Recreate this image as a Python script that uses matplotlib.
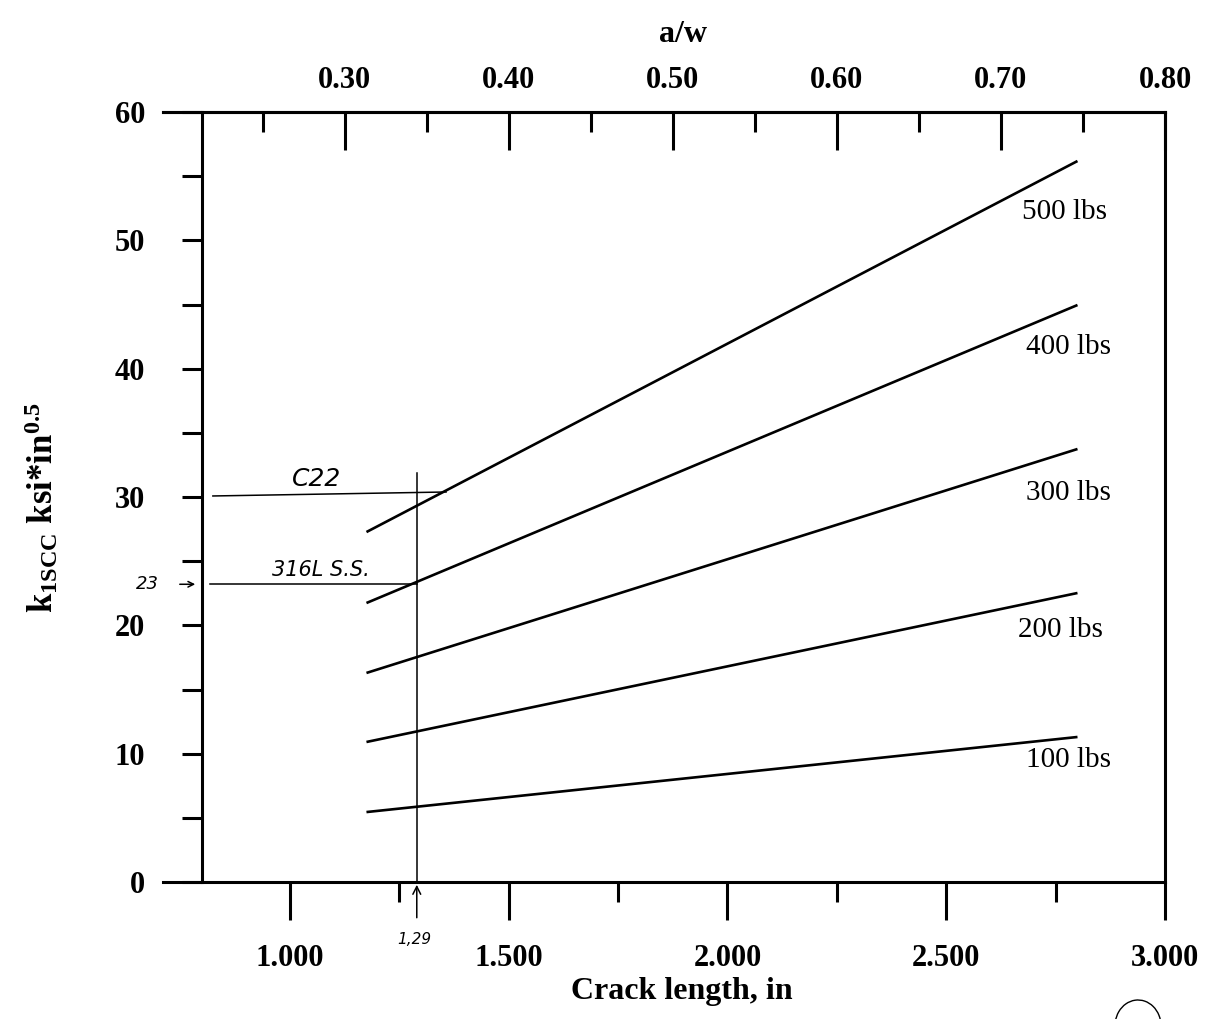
import matplotlib
matplotlib.use("Agg")
import matplotlib.pyplot as plt
from matplotlib.ticker import MultipleLocator, FixedLocator
from matplotlib.patches import Arc

# ---- data ----
crack_len = [1.175, 2.80]                      # in
loads = ["100 lbs", "200 lbs", "300 lbs", "400 lbs", "500 lbs"]
k_start = [5.45, 10.91, 16.29, 21.74, 27.27]   # ksi*in^0.5 at crack_len[0]
k_end = [11.30, 22.52, 33.74, 44.96, 56.18]    # ksi*in^0.5 at crack_len[1]
label_x = [2.78, 2.76, 2.78, 2.78, 2.77]
label_y = [9.5, 19.6, 30.3, 41.7, 52.2]

x_ticks = [1.0, 1.5, 2.0, 2.5, 3.0]
x_ticklabels = ["1.000", "1.500", "2.000", "2.500", "3.000"]
x_minor = [1.25, 1.75, 2.25, 2.75]
y_ticks = [0, 10, 20, 30, 40, 50, 60]
aw_ticks = [0.30, 0.40, 0.50, 0.60, 0.70, 0.80]
aw_ticklabels = ["0.30", "0.40", "0.50", "0.60", "0.70", "0.80"]
aw_minor = [0.25, 0.35, 0.45, 0.55, 0.65, 0.75]
W = 3.75  # specimen width, in (a/w = crack / W)

# hand annotations
mark_crack = 1.29
c22_k = 30.2
ss_k = 23.2

plt.rcParams["mathtext.fontset"] = "custom"
plt.rcParams["mathtext.rm"] = "Liberation Serif:bold"
plt.rcParams["mathtext.it"] = "Liberation Serif:bold"
plt.rcParams["mathtext.bf"] = "Liberation Serif:bold"

serif = "Liberation Serif"
hand = dict(family="DejaVu Sans", style="italic", weight="normal")

fig = plt.figure(figsize=(12.18, 10.19), dpi=100)
L, R, B, T = 163 / 1218, 1165 / 1218, 1 - 882 / 1019, 1 - 112 / 1019
ax = fig.add_axes([L, B, R - L, T - B])
xmin, xmax = 0.71, 3.0
ax.set_xlim(xmin, xmax)
ax.set_ylim(0, 60)

lw_sp = 2.2
for s in ["bottom", "top", "right", "left"]:
    ax.spines[s].set_linewidth(lw_sp)
ax.spines["left"].set_position(("data", 0.80))

for ks, ke in zip(k_start, k_end):
    ax.plot(crack_len, [ks, ke], color="black", lw=1.9, solid_capstyle="butt")
for lab, lx, ly in zip(loads, label_x, label_y):
    ax.text(lx, ly, lab, ha="center", va="center", family=serif, fontsize=21)

ax.xaxis.set_major_locator(FixedLocator(x_ticks))
ax.set_xticklabels(x_ticklabels)
ax.xaxis.set_minor_locator(FixedLocator(x_minor))
ax.yaxis.set_major_locator(FixedLocator(y_ticks))
ax.yaxis.set_minor_locator(MultipleLocator(5))
ax.tick_params(axis="x", which="major", direction="out", length=27, width=lw_sp, pad=18,
               top=False, labelsize=22)
ax.tick_params(axis="x", which="minor", direction="out", length=14.4, width=lw_sp, top=False)
ax.tick_params(axis="y", which="both", direction="out", length=14.4, width=lw_sp, right=False)
ax.tick_params(axis="y", which="major", pad=27, labelsize=22)
for t in ax.get_xticklabels() + ax.get_yticklabels():
    t.set_family(serif)
    t.set_weight("bold")

ax2 = ax.twiny()
ax2.set_xlim(xmin / W, xmax / W)
for s in ["bottom", "right", "left"]:
    ax2.spines[s].set_visible(False)
ax2.spines["top"].set_linewidth(lw_sp)
ax2.xaxis.set_major_locator(FixedLocator(aw_ticks))
ax2.set_xticklabels(aw_ticklabels)
ax2.xaxis.set_minor_locator(FixedLocator(aw_minor))
ax2.tick_params(axis="x", which="major", direction="in", length=27, width=lw_sp, pad=12,
                labelsize=22)
ax2.tick_params(axis="x", which="minor", direction="in", length=14.4, width=lw_sp)
for t in ax2.get_xticklabels():
    t.set_family(serif)
    t.set_weight("bold")

fig.text(683 / 1218, 1 - 35 / 1019, "a/w", ha="center", va="center",
         family=serif, weight="bold", fontsize=23)
fig.text(682 / 1218, 1 - 992 / 1019, "Crack length, in", ha="center", va="center",
         family=serif, weight="bold", fontsize=23)
fig.text(42 / 1218, 1 - 508 / 1019, r"k$_{\rm 1SCC}$ ksi*in$^{\rm 0.5}$", ha="center",
         va="center", rotation=90, family=serif, weight="bold", fontsize=25)

# ---- hand annotations ----
alw = 1.1
ax.plot([mark_crack, mark_crack], [0, 31.9], color="black", lw=alw)
ax.annotate("", xy=(mark_crack, 0), xytext=(mark_crack, -3.0),
            arrowprops=dict(arrowstyle="->", lw=alw, color="black", mutation_scale=14),
            annotation_clip=False)
ax.text(mark_crack - 0.005, -4.5, "1,29", ha="center", va="center", fontsize=11,
        clip_on=False, **hand)
ax.plot([0.824, 1.357], [30.08, 30.39], color="black", lw=alw)
ax.text(1.06, 31.4, "C22", ha="center", va="center", fontsize=18, **hand)
ax.plot([0.817, mark_crack], [ss_k, ss_k], color="black", lw=alw)
ax.text(1.07, 24.3, "316L S.S.", ha="center", va="center", fontsize=15, **hand)
ax.annotate("", xy=(0.79, ss_k), xytext=(0.742, ss_k),
            arrowprops=dict(arrowstyle="->", lw=alw, color="black", mutation_scale=10),
            annotation_clip=False)
ax.text(0.675, ss_k, "23", ha="center", va="center", fontsize=13, clip_on=False, **hand)

arc = Arc((1138 / 1218, 1 - 1026 / 1019), 46 / 1218, 52 / 1019, theta1=0, theta2=200,
          transform=fig.transFigure, color="black", lw=1.0)
fig.add_artist(arc)

fig.savefig("out.png", dpi=100, facecolor="white")
